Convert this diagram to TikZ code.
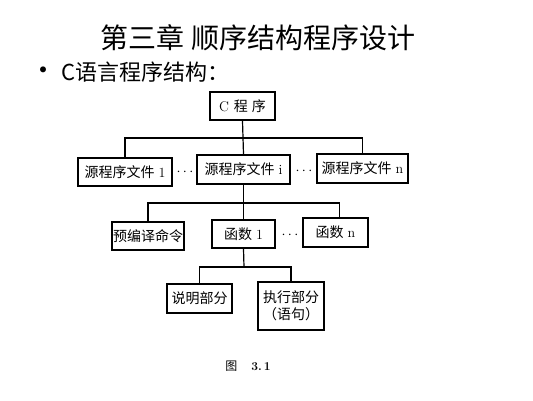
\documentclass[tikz,border=0pt]{standalone}
\usepackage{fontspec}
\newfontfamily\cjk{Noto Sans CJK SC}
\begin{document}
\begin{tikzpicture}[x=1pt,y=-1pt,
  box/.style={draw=black,line width=1.7pt,inner sep=0pt,align=center,font=\fontsize{14}{17}\selectfont},
  link/.style={line width=1.2pt},
  dots/.style={font=\fontsize{14}{14}\selectfont}]
\useasboundingbox (0,0) rectangle (533,400);
% title
\node (title) at (258,38) {\cjk\fontsize{28}{30}\selectfont 第三章 顺序结构程序设计};
\node[anchor=west] (bullet) at (26,72) {\cjk\fontsize{22}{24}\selectfont {\fontsize{28}{24}\selectfont •}\hspace{4pt}C语言程序结构：};
% boxes
\node[box,minimum width=65,minimum height=28] (cprog) at (242.5,106) {C\hspace{5pt}{\cjk 程\hspace{4pt}序}};
\node[box,minimum width=94,minimum height=28] (f1) at (125,172) {{\cjk 源程序文件}\hspace{4pt}1};
\node[box,minimum width=93,minimum height=29] (fi) at (243.5,169.5) {{\cjk 源程序文件}\hspace{4pt}i};
\node[box,minimum width=91,minimum height=29] (fn) at (362.5,168.5) {{\cjk 源程序文件}\hspace{4pt}n};
\node[box,minimum width=72,minimum height=28] (pre) at (148,236) {\cjk 预编译命令};
\node[box,minimum width=63,minimum height=28] (fun1) at (243.5,234) {{\cjk 函数}\hspace{4pt}1};
\node[box,minimum width=65,minimum height=29] (funn) at (335.5,232.5) {{\cjk 函数}\hspace{4pt}n};
\node[box,minimum width=65,minimum height=29] (decl) at (199.5,298.5) {\cjk 说明部分};
\node[box,minimum width=66,minimum height=48,align=center] (exec) at (291,306) {\cjk 执行部分\\\cjk （语句）};
% dots
\node[dots] (d1) at (185,172) {$\cdots$};
\node[dots] (d2) at (304,171) {$\cdots$};
\node[dots] (d3) at (290,235) {$\cdots$};
% buses
\coordinate (bus1) at (243,138);
\coordinate (bus2) at (244,203);
\coordinate (bus3) at (244,267);
\draw[link] (cprog.south) -- (fi.north);
\draw[link] (f1.north) |- (bus1) -| (fn.north);
\draw[link] (fi.south) -- (fun1.north);
\draw[link] (pre.north) |- (bus2) -| ([xshift=4pt]funn.north);
\draw[link] (fun1.south) -- (bus3);
\draw[link] (decl.north) |- (bus3) -| (exec.north);
% caption
\node (cap) at (248,366) {{\cjk\fontsize{12}{12}\selectfont 图}\hspace{14pt}{\fontsize{12}{12}\selectfont\bfseries 3.\,1}};
\end{tikzpicture}
\end{document}
